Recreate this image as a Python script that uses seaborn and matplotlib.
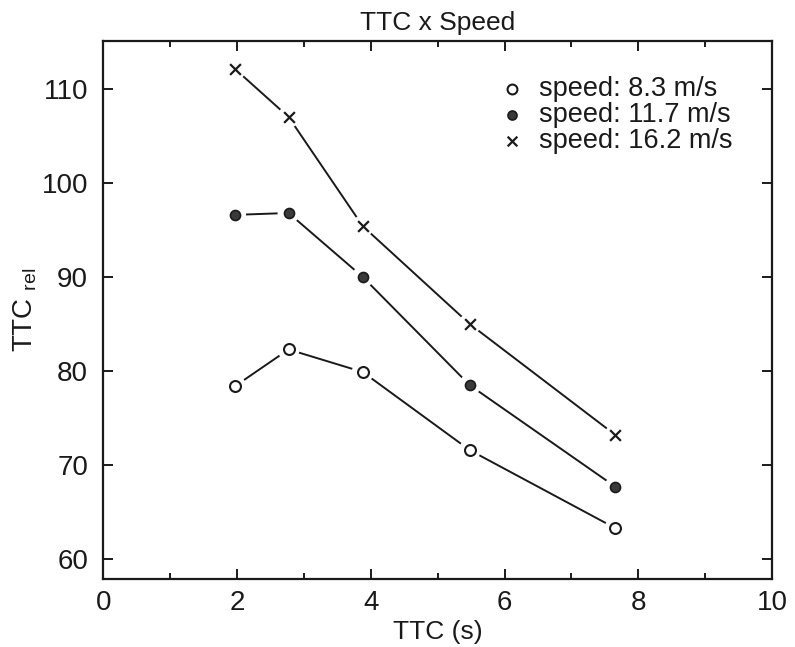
import matplotlib
matplotlib.use("Agg")
import matplotlib.pyplot as plt
from matplotlib.ticker import MultipleLocator
import seaborn as sns
import pandas as pd

# ---- data ----
ttc = [1.97, 2.77, 3.88, 5.48, 7.66]
speed_labels = ["speed: 8.3 m/s", "speed: 11.7 m/s", "speed: 16.2 m/s"]
rel_8_3 = [78.4, 82.3, 79.9, 71.6, 63.3]
rel_11_7 = [96.6, 96.8, 90.0, 78.5, 67.7]
rel_16_2 = [112.1, 107.0, 95.4, 85.0, 73.2]
x_ticks = [0, 2, 4, 6, 8, 10]
y_ticks = [60, 70, 80, 90, 100, 110]

series = [rel_8_3, rel_11_7, rel_16_2]
df = pd.concat(
    [pd.DataFrame({"TTC": ttc, "rel": vals, "speed": lab})
     for lab, vals in zip(speed_labels, series)],
    ignore_index=True,
)

sns.set_theme(style="ticks")
plt.rcParams["font.family"] = ["Liberation Sans", "DejaVu Sans"]

fig = plt.figure(figsize=(7.95, 6.47), dpi=100)
ax = fig.add_axes([0.13, 0.105, 0.841, 0.832])

# lines
sns.lineplot(data=df, x="TTC", y="rel", units="speed", estimator=None,
             color="#1a1a1a", linewidth=1.4, legend=False, ax=ax, zorder=1)
# white halo so the lines stop short of the markers
sns.scatterplot(data=df, x="TTC", y="rel", s=250, color="white",
                edgecolor="none", legend=False, ax=ax, zorder=2)

styles = [
    dict(marker="o", facecolor="white", edgecolor="#1a1a1a", s=62, linewidth=1.5),
    dict(marker="o", facecolor="#3a3a3a", edgecolor="#1a1a1a", s=52, linewidth=1.2),
    dict(marker="x", color="#1a1a1a", s=60, linewidth=1.6),
]
for lab, st in zip(speed_labels, styles):
    sub = df[df["speed"] == lab]
    sns.scatterplot(data=sub, x="TTC", y="rel", label=lab, ax=ax, zorder=3, **st)

ax.set_xlim(0, 10)
ax.set_ylim(57.9, 115.1)
ax.set_xticks(x_ticks)
ax.set_yticks(y_ticks)
ax.xaxis.set_minor_locator(MultipleLocator(1))

ax.tick_params(which="both", direction="in", top=True, right=True,
               colors="#1a1a1a", labelcolor="#1a1a1a", width=1.4)
ax.tick_params(which="major", length=7, labelsize=20)
ax.tick_params(axis="x", which="major", pad=8)
ax.tick_params(axis="y", which="major", pad=11)
ax.tick_params(which="minor", length=4)
for sp in ax.spines.values():
    sp.set_visible(True)
    sp.set_linewidth(1.6)
    sp.set_color("#1a1a1a")

ax.set_title("TTC x Speed", fontsize=19, pad=8, color="#1a1a1a")
ax.set_xlabel("TTC (s)", fontsize=19, labelpad=3, color="#1a1a1a")
ax.set_ylabel(r"TTC $\mathregular{_{rel}}$", fontsize=20, labelpad=2,
              color="#1a1a1a")

leg = ax.legend(loc="upper right", bbox_to_anchor=(0.965, 0.965), frameon=False,
                fontsize=19.5, handletextpad=0.0, labelspacing=0.0,
                borderaxespad=0.2, markerscale=0.9)
for t in leg.get_texts():
    t.set_color("#1a1a1a")

fig.savefig("out.png", dpi=100, facecolor="white")
